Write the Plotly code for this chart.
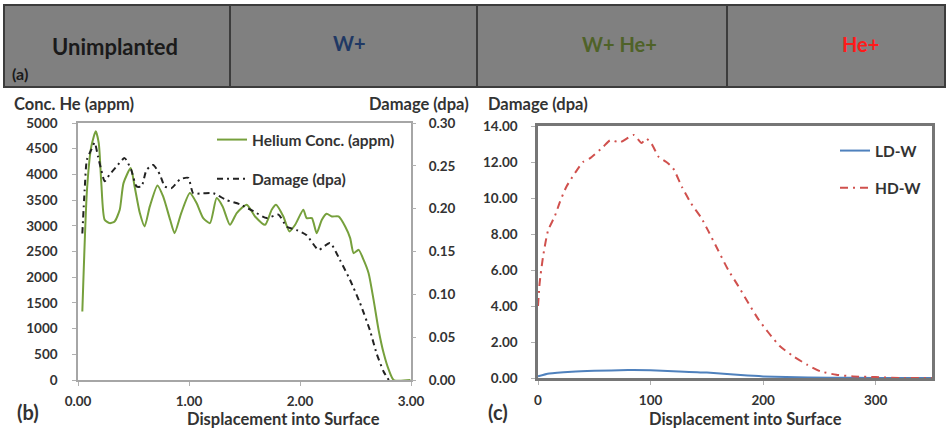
import plotly.graph_objects as go

W, H = 948, 429
def px(x): return x / W
def py(y): return 1 - y / H

# ---- data: panel (b) ----
he_x = [0.039, 0.081, 0.12, 0.16, 0.187, 0.21, 0.24, 0.286, 0.33, 0.376, 0.41, 0.475, 0.51, 0.557, 0.60,
        0.647, 0.716, 0.767, 0.83, 0.87, 0.93, 1.008, 1.068, 1.128, 1.189, 1.249, 1.303, 1.369, 1.43, 1.52,
        1.595, 1.685, 1.745, 1.784, 1.85, 1.905, 1.956, 2.03, 2.06, 2.107, 2.15, 2.197, 2.24, 2.287, 2.347,
        2.407, 2.452, 2.483, 2.528, 2.573, 2.618, 2.663, 2.708, 2.754, 2.80, 2.844, 2.995]
he_y = [1331, 3701, 4545, 4838, 4610, 3831, 3117, 3052, 3084, 3312, 3831, 4123, 3766, 3247, 2987,
        3377, 3786, 3571, 3117, 2857, 3247, 3636, 3442, 3149, 3052, 3539, 3377, 3019, 3247, 3409,
        3182, 3019, 3312, 3409, 3182, 2890, 3019, 3312, 3149, 3149, 2857, 3117, 3234, 3182, 3182,
        2987, 2760, 2468, 2532, 2338, 2078, 1558, 974, 519, 195, 0, 0]

dmg_x = [0.039, 0.06, 0.08, 0.12, 0.15, 0.18, 0.21, 0.24, 0.286, 0.346, 0.42, 0.48, 0.527, 0.572, 0.617,
         0.677, 0.737, 0.782, 0.843, 0.918, 0.993, 1.038, 1.128, 1.219, 1.339, 1.46, 1.58, 1.70, 1.806,
         1.88, 1.97, 2.06, 2.167, 2.27, 2.36, 2.45, 2.54, 2.63, 2.69, 2.754, 2.80]
dmg_y = [0.171, 0.222, 0.257, 0.269, 0.277, 0.261, 0.245, 0.232, 0.240, 0.249, 0.259, 0.245, 0.226, 0.226, 0.245,
         0.251, 0.240, 0.226, 0.224, 0.234, 0.236, 0.218, 0.218, 0.218, 0.210, 0.205, 0.197, 0.189, 0.193,
         0.179, 0.175, 0.169, 0.152, 0.160, 0.140, 0.117, 0.090, 0.058, 0.031, 0.0097, 0.0]

# ---- data: panel (c) ----
hd_x = [0, 1.5, 4.5, 9, 15, 19, 25, 33, 40, 46, 58, 64, 73, 85, 92, 96, 101, 107, 114, 120, 128, 136,
        145, 151, 160, 169, 178, 187, 196, 205, 215, 227, 239, 251, 265, 280, 300, 325, 350]
hd_y = [4.0, 5.3, 6.75, 8.2, 9.0, 9.7, 10.6, 11.4, 12.0, 12.2, 12.85, 13.2, 13.1, 13.5, 13.05, 13.3, 13.0,
        12.3, 12.0, 11.65, 10.6, 9.7, 8.9, 8.2, 7.1, 6.0, 5.1, 4.15, 3.24, 2.5, 1.76, 1.2, 0.74, 0.37,
        0.18, 0.09, 0.05, 0.0, 0.0]
ld_x = [0, 10, 30, 50, 80, 100, 120, 150, 180, 200, 240, 280, 320, 350]
ld_y = [0.10, 0.25, 0.35, 0.40, 0.44, 0.43, 0.38, 0.30, 0.16, 0.09, 0.03, 0.01, 0.0, 0.0]

banner_labels = ["Unimplanted", "W+", "W+ He+", "He+"]
banner_colors = ["#1a1a1a", "#1f3864", "#4f6228", "#ff1a1a"]

FONT = "Lato"
TXT = "#333333"

fig = go.Figure()
fig.add_trace(go.Scatter(x=he_x, y=he_y, mode="lines", name="Helium Conc. (appm)",
                         line=dict(color="#76a03c", width=2, shape="spline", smoothing=0.6),
                         xaxis="x", yaxis="y", legend="legend", legendgroup="a"))
fig.add_trace(go.Scatter(x=dmg_x, y=dmg_y, mode="lines", name="Damage (dpa)",
                         line=dict(color="#222222", width=2, dash="6px,4px,2px,4px", shape="spline", smoothing=0.6),
                         xaxis="x", yaxis="y2", legend="legend", legendgroup="b"))
fig.add_trace(go.Scatter(x=ld_x, y=ld_y, mode="lines", name="LD-W",
                         line=dict(color="#4f81bd", width=2, shape="spline", smoothing=0.6),
                         xaxis="x3", yaxis="y3", legend="legend2", legendgroup="c"))
fig.add_trace(go.Scatter(x=hd_x, y=hd_y, mode="lines", name="HD-W",
                         line=dict(color="#d0504d", width=2, dash="8px,5px,2px,5px", shape="spline", smoothing=0.6),
                         xaxis="x3", yaxis="y3", legend="legend2", legendgroup="d"))

tickfont = dict(family=FONT, size=13.5, color=TXT, weight="bold")
common = dict(showgrid=False, zeroline=False, ticks="outside", ticklen=4, tickcolor="#b0b0b0",
              tickfont=tickfont, showline=True, automargin=False)

bx0, bx1, by0, by1 = px(78), px(411), py(380), py(123)
cx0, cx1, cy0, cy1 = px(538), px(932), py(378), py(126)

fig.update_layout(
    width=W, height=H, margin=dict(l=0, r=0, t=0, b=0, pad=0, autoexpand=False),
    paper_bgcolor="white", plot_bgcolor="white",
    font=dict(family=FONT, color=TXT),
    xaxis=dict(domain=[bx0, bx1], anchor="y", range=[0, 3], tickvals=[0, 1, 2, 3],
               tickformat=".2f", linecolor="#a6a6a6", linewidth=1.5, mirror=True,
               ticklabelstandoff=4, **common),
    yaxis=dict(domain=[by0, by1], anchor="x", range=[0, 5000], dtick=500,
               linecolor="#a6a6a6", linewidth=1.5, mirror=True, ticklabelstandoff=12, **common),
    yaxis2=dict(overlaying="y", anchor="x", side="right", range=[0, 0.30], dtick=0.05,
                tickformat=".2f", showgrid=False, zeroline=False, ticks="outside", ticklen=4,
                tickcolor="#b0b0b0", tickfont=tickfont, showline=False, ticklabelstandoff=10,
                automargin=False),
    xaxis3=dict(domain=[cx0, cx1], anchor="y3", range=[0, 350], tickvals=[0, 100, 200, 300],
                linecolor="#767676", linewidth=2.5, mirror=True, ticklabelstandoff=4, **common),
    yaxis3=dict(domain=[cy0, cy1], anchor="x3", range=[0, 14], dtick=2, tickformat=".2f",
                linecolor="#767676", linewidth=2.5, mirror=True, ticklabelstandoff=11, **common),
    legend=dict(x=px(212), y=py(123), xanchor="left", yanchor="top", bgcolor="rgba(0,0,0,0)",
                font=dict(family=FONT, size=15.5, color=TXT, weight="bold"),
                tracegroupgap=16, traceorder="grouped", itemwidth=30),
    legend2=dict(x=px(835), y=py(134), xanchor="left", yanchor="top", bgcolor="rgba(0,0,0,0)",
                 font=dict(family=FONT, size=15.5, color=TXT, weight="bold"),
                 tracegroupgap=14, traceorder="grouped", itemwidth=30),
    showlegend=True,
)

# banner
shapes = [dict(type="rect", xref="paper", yref="paper", x0=px(4), x1=px(945), y0=py(87), y1=py(5),
               fillcolor="#808080", line=dict(color="#3c3c3c", width=2), layer="below")]
for xd in [230, 477, 727]:
    shapes.append(dict(type="line", xref="paper", yref="paper", x0=px(xd), x1=px(xd), y0=py(87), y1=py(5),
                       line=dict(color="#3c3c3c", width=2)))
fig.update_layout(shapes=shapes)

def A(text, x, y, font, xanchor="center"):
    return dict(text=text, x=px(x), y=py(y), xref="paper", yref="paper", showarrow=False,
                xanchor=xanchor, yanchor="middle", font=font)

ann = []
bpos = [(115, 47), (349, 43), (619, 44), (860, 44)]
bsize = [22, 20, 20, 20]
for (x, y), lab, col, s in zip(bpos, banner_labels, banner_colors, bsize):
    ann.append(A(lab, x, y, dict(family=FONT, size=s, color=col, weight="bold")))
ann.append(A("(a)", 20, 73, dict(family=FONT, size=16, color="#1a1a1a", weight="bold")))

tfont = dict(family=FONT, size=16.5, color=TXT, weight="bold")
lfont = dict(family=FONT, size=20, color=TXT, weight="bold")
ann += [
    A("Conc. He (appm)", 12, 104, tfont, "left"),
    A("Damage (dpa)", 471, 104, tfont, "right"),
    A("Displacement into Surface", 283, 419, tfont),
    A("(b)", 28, 412, lfont),
    A("Damage (dpa)", 486, 104, tfont, "left"),
    A("Displacement into Surface", 745, 419, tfont),
    A("(c)", 498, 412, lfont),
]
fig.update_layout(annotations=ann)

fig.write_html("out.html", config={"displayModeBar": False},
               post_script="document.body.style.margin='0';document.body.style.overflow='hidden';")
